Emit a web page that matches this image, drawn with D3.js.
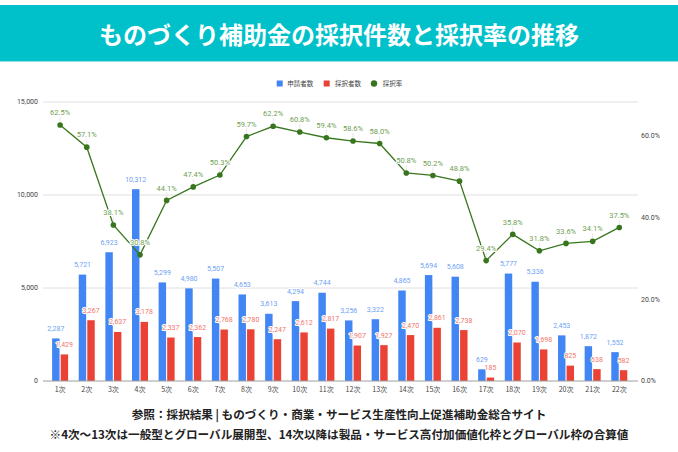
<!DOCTYPE html>
<html><head><meta charset="utf-8">
<script src="https://cdn.jsdelivr.net/npm/d3@7"></script>
<style>
html,body{margin:0;padding:0;background:#fff;}
svg{display:block;font-family:Roboto,"Noto Sans CJK JP",sans-serif;}
</style></head>
<body>
<svg id="c" width="678" height="452"></svg>
<script>
const categories = ["1次","2次","3次","4次","5次","6次","7次","8次","9次","10次","11次","12次","13次","14次","15次","16次","17次","18次","19次","20次","21次","22次"];
const applicants = [2287,5721,6923,10312,5299,4980,5507,4653,3613,4294,4744,3256,3322,4865,5694,5608,629,5777,5336,2453,1872,1552];
const adopted = [1429,3267,2637,3178,2337,2362,2768,2780,2247,2612,2817,1907,1927,2470,2861,2738,185,2070,1698,825,638,582];
const rates = [62.5,57.1,38.1,30.8,44.1,47.4,50.3,59.7,62.2,60.8,59.4,58.6,58.0,50.8,50.2,48.8,29.4,35.8,31.8,33.6,34.1,37.5];
const leftTicks = [0,5000,10000,15000];
const rightTicks = [0,20,40,60];
const seriesNames = ["申請者数","採択者数","採択率"];
const title = "ものづくり補助金の採択件数と採択率の推移";
const notes = ["参照：採択結果 | ものづくり・商業・サービス生産性向上促進補助金総合サイト",
  "※4次～13次は一般型とグローバル展開型、14次以降は製品・サービス高付加価値化枠とグローバル枠の合算値"];

const BLUE="#4285F4", RED="#EA4335", GREEN="#38761D";
const svg = d3.select("#c");
const JP = '"Noto Sans CJK JP",sans-serif';

// banner
svg.append("rect").attr("x",0).attr("y",5).attr("width",678).attr("height",56).attr("fill","#00C1C9");
svg.append("rect").attr("x",0).attr("y",61).attr("width",678).attr("height",1).attr("fill","#8fe0e3");
svg.append("text").attr("x",339).attr("y",33).attr("text-anchor","middle").attr("dominant-baseline","central")
  .attr("fill","#fff").attr("font-family",JP).attr("font-weight","bold").attr("font-size",24).text(title);

const plotL=43, plotR=638, plotT=102, plotB=381;
const y = d3.scaleLinear().domain([0,15000]).range([plotB,plotT]);
const yR = d3.scaleLinear().domain([0,68.13]).range([plotB,plotT]);
const x = d3.scaleBand().domain(categories).range([46.8,632.6]).padding(0);
const xs = d3.scaleBand().domain(["a","b"]).range([-8,8]).paddingInner(0.13);

// gridlines
svg.append("g").selectAll("line").data(leftTicks.filter(d=>d>0)).join("line")
  .attr("x1",plotL).attr("x2",plotR).attr("y1",d=>y(d)).attr("y2",d=>y(d))
  .attr("stroke","#e0e0e0").attr("stroke-width",1);

// left axis labels
svg.append("g").selectAll("text").data(leftTicks).join("text")
  .attr("x",38).attr("y",d=>y(d)).attr("dy","0.35em").attr("text-anchor","end")
  .attr("font-size",7).attr("fill","#444").text(d=>d3.format(",")(d));
// right axis labels
svg.append("g").selectAll("text").data(rightTicks).join("text")
  .attr("x",641).attr("y",d=>yR(d)).attr("dy","0.35em").attr("text-anchor","start")
  .attr("font-size",7).attr("fill","#444").text(d=>d.toFixed(1)+"%");

// bars
const g = svg.append("g");
const cx = c => x(c)+x.bandwidth()/2;
g.selectAll("rect.a").data(categories).join("rect").attr("class","a")
  .attr("x",(c)=>cx(c)+xs("a")).attr("width",xs.bandwidth())
  .attr("y",(c,i)=>y(applicants[i])).attr("height",(c,i)=>plotB-y(applicants[i]))
  .attr("fill",BLUE);
g.selectAll("rect.b").data(categories).join("rect").attr("class","b")
  .attr("x",(c)=>cx(c)+xs("b")).attr("width",xs.bandwidth())
  .attr("y",(c,i)=>y(adopted[i])).attr("height",(c,i)=>plotB-y(adopted[i]))
  .attr("fill",RED);

// baseline
svg.append("line").attr("x1",plotL).attr("x2",plotR).attr("y1",plotB).attr("y2",plotB).attr("stroke","#9e9e9e");

// x labels
svg.append("g").selectAll("text").data(categories).join("text")
  .attr("x",c=>cx(c)).attr("y",389.5).attr("dy","0.35em").attr("text-anchor","middle")
  .attr("font-size",7).attr("font-family",JP).attr("fill","#444").text(c=>c);

// bar labels
const halo = sel => sel.attr("stroke","#fff").attr("stroke-width",2).attr("paint-order","stroke").attr("stroke-linejoin","round");
svg.append("g").selectAll("text").data(categories).join("text")
  .attr("x",c=>cx(c)+xs("a")+xs.bandwidth()/2).attr("y",(c,i)=>y(applicants[i])-10).attr("dy","0.35em")
  .attr("text-anchor","middle").attr("font-size",7).attr("fill","#6f9ff5")
  .call(halo).text((c,i)=>d3.format(",")(applicants[i]));
svg.append("g").selectAll("text").data(categories).join("text")
  .attr("x",c=>cx(c)+xs("b")+xs.bandwidth()/2).attr("y",(c,i)=>y(adopted[i])-10).attr("dy","0.35em")
  .attr("text-anchor","middle").attr("font-size",7).attr("fill","#f0766c")
  .call(halo).text((c,i)=>d3.format(",")(adopted[i]));

// line
const line = d3.line().x((d,i)=>cx(categories[i])).y(d=>yR(d));
svg.append("g").selectAll("line").data(rates).join("line")
  .attr("x1",(d,i)=>cx(categories[i])).attr("x2",(d,i)=>cx(categories[i]))
  .attr("y1",d=>yR(d)-8).attr("y2",d=>yR(d)-3).attr("stroke","#e6e6e6");
svg.append("path").datum(rates).attr("d",line).attr("fill","none").attr("stroke",GREEN).attr("stroke-width",1.3);
svg.append("g").selectAll("circle").data(rates).join("circle")
  .attr("cx",(d,i)=>cx(categories[i])).attr("cy",d=>yR(d)).attr("r",2.8).attr("fill",GREEN);
svg.append("g").selectAll("text").data(rates).join("text")
  .attr("x",(d,i)=>cx(categories[i])).attr("y",d=>yR(d)-12.5).attr("dy","0.35em")
  .attr("text-anchor","middle").attr("font-size",7.5).attr("fill","#6fa052")
  .call(halo).text(d=>d.toFixed(1)+"%");

// legend
const leg = svg.append("g").attr("font-family",JP).attr("font-size",6.5).attr("fill","#444");
const lx = [276.7, 323.7, 371];
[BLUE,RED].forEach((col,i)=>{
  leg.append("rect").attr("x",lx[i]).attr("y",80.5).attr("width",6).attr("height",6).attr("fill",col);
});
leg.append("circle").attr("cx",374).attr("cy",83.5).attr("r",3.2).attr("fill",GREEN);
const ltx=[287.3,335,382.7];
seriesNames.forEach((n,i)=>leg.append("text").attr("x",ltx[i]).attr("y",83.5).attr("dy","0.35em").text(n));

// notes
svg.append("g").selectAll("text").data(notes).join("text")
  .attr("x",339).attr("y",(d,i)=>[415,435][i]).attr("dy","0.35em").attr("text-anchor","middle")
  .attr("font-family",JP).attr("font-weight","bold").attr("font-size",11.6).attr("fill","#222").text(d=>d);
</script>
</body></html>
